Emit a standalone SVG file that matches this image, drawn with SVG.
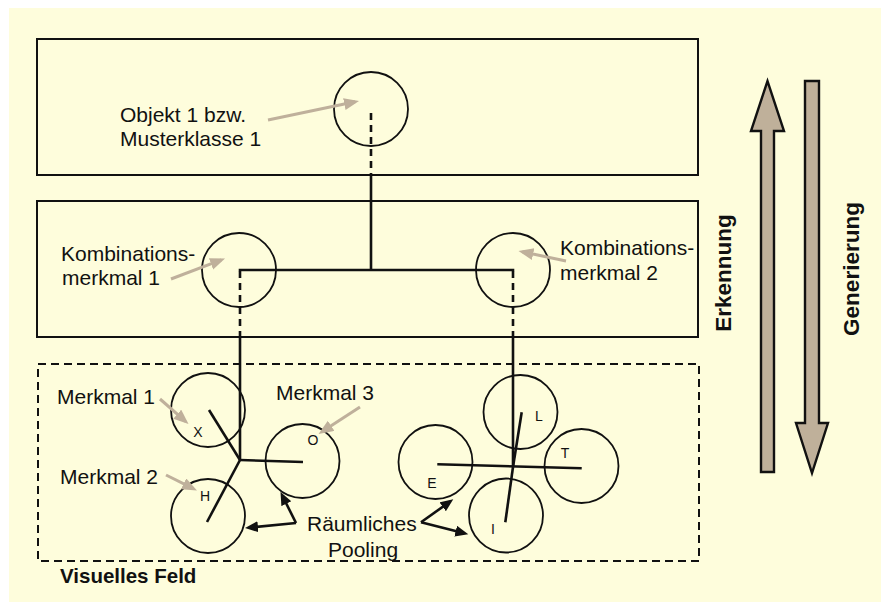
<svg xmlns="http://www.w3.org/2000/svg" width="881" height="602" viewBox="0 0 881 602">
  <style>
    .txt { font-family: "Liberation Sans", Arial, sans-serif; font-size: 21px; fill: #111; }
    .bold { font-family: "Liberation Sans", Arial, sans-serif; font-weight: bold; fill: #111; }
    .letter { font-family: "Liberation Sans", Arial, sans-serif; font-size: 14px; fill: #111; }
    .box { fill: none; stroke: #111; stroke-width: 2; }
    .field { fill: none; stroke: #111; stroke-width: 2; stroke-dasharray: 8 5; }
    .node { fill: none; stroke: #111; stroke-width: 1.8; }
    .wire { fill: none; stroke: #111; stroke-width: 2.6; }
    .dash { fill: none; stroke: #111; stroke-width: 2.6; stroke-dasharray: 7 5; }
    .callout { stroke: #bfb09b; stroke-width: 3; marker-end: url(#grayHead); }
    .pool { stroke: #111; stroke-width: 2.6; marker-end: url(#blackHead); }
    .bigarrow { fill: #bfb09a; stroke: #111; stroke-width: 2.4; stroke-linejoin: miter; }
  </style>
  <defs>
    <marker id="grayHead" markerUnits="userSpaceOnUse" markerWidth="16" markerHeight="13" refX="11" refY="6" orient="auto">
      <path d="M0,0 L15,6 L0,12 z" fill="#bfb09b"/>
    </marker>
    <marker id="blackHead" markerUnits="userSpaceOnUse" markerWidth="14" markerHeight="12" refX="9" refY="5.5" orient="auto">
      <path d="M0,0 L13,5.5 L0,11 z" fill="#111"/>
    </marker>
  </defs>

  <!-- page -->
  <rect x="0" y="0" width="881" height="602" fill="#ffffff"/>
  <rect x="9" y="8" width="872" height="594" fill="#fefddc"/>

  <!-- layer frames -->
  <g id="layer-object">
    <rect class="box" x="37" y="39" width="661" height="136"/>
  </g>
  <g id="layer-combination">
    <rect class="box" x="37" y="201" width="661" height="136"/>
  </g>
  <g id="visual-field">
    <rect class="field" x="38" y="364" width="661" height="197"/>
    <text class="bold" x="60" y="583" font-size="20.5">Visuelles Feld</text>
  </g>

  <!-- connectors -->
  <g id="connectors">
    <line class="dash" x1="371" y1="113" x2="371" y2="175"/>
    <line class="wire" x1="371" y1="175" x2="371" y2="270"/>
    <line class="wire" x1="238.7" y1="270" x2="514.3" y2="270"/>
    <line class="dash" x1="240" y1="271" x2="240" y2="337"/>
    <line class="wire" x1="240" y1="337" x2="240" y2="460"/>
    <line class="dash" x1="513" y1="271" x2="513" y2="337"/>
    <line class="wire" x1="513" y1="337" x2="513" y2="467"/>
    <!-- left feature star -->
    <line class="wire" x1="240" y1="460" x2="209" y2="410"/>
    <line class="wire" x1="240" y1="460" x2="303" y2="462"/>
    <line class="wire" x1="240" y1="460" x2="207" y2="522"/>
    <!-- right feature star -->
    <line class="wire" x1="513" y1="467" x2="521.7" y2="412.3"/>
    <line class="wire" x1="513" y1="467" x2="505.3" y2="522.3"/>
    <line class="wire" x1="437.3" y1="464.3" x2="581.7" y2="468.3"/>
  </g>

  <!-- nodes -->
  <g id="obj1">
    <circle class="node" cx="371" cy="109" r="37"/>
    <text class="txt" x="120" y="122">Objekt 1 bzw.</text>
    <text class="txt" x="120" y="146">Musterklasse 1</text>
  </g>
  <g id="komb1">
    <circle class="node" cx="239" cy="270" r="37"/>
    <text class="txt" x="61" y="261">Kombinations-</text>
    <text class="txt" x="62" y="285">merkmal 1</text>
  </g>
  <g id="komb2">
    <circle class="node" cx="513" cy="270" r="37"/>
    <text class="txt" x="560" y="255">Kombinations-</text>
    <text class="txt" x="560" y="280">merkmal 2</text>
  </g>
  <g id="merkmal1">
    <circle class="node" cx="208" cy="410" r="37"/>
    <text class="letter" x="198" y="437" text-anchor="middle">X</text>
    <text class="txt" x="57" y="404">Merkmal 1</text>
  </g>
  <g id="merkmal2">
    <circle class="node" cx="208" cy="516" r="37"/>
    <text class="letter" x="205" y="501" text-anchor="middle">H</text>
    <text class="txt" x="60" y="484">Merkmal 2</text>
  </g>
  <g id="merkmal3">
    <circle class="node" cx="302.5" cy="461" r="37"/>
    <text class="letter" x="313" y="445" text-anchor="middle">O</text>
    <text class="txt" x="276" y="400">Merkmal 3</text>
  </g>
  <g id="feature-L">
    <circle class="node" cx="520.5" cy="412" r="37"/>
    <text class="letter" x="539" y="421" text-anchor="middle">L</text>
  </g>
  <g id="feature-E">
    <circle class="node" cx="435.5" cy="462" r="37"/>
    <text class="letter" x="432" y="488" text-anchor="middle">E</text>
  </g>
  <g id="feature-T">
    <circle class="node" cx="581.5" cy="466" r="37"/>
    <text class="letter" x="565" y="458" text-anchor="middle">T</text>
  </g>
  <g id="feature-I">
    <circle class="node" cx="506" cy="515.5" r="37"/>
    <text class="letter" x="493" y="534" text-anchor="middle">I</text>
  </g>

  <!-- label pointers -->
  <g id="callouts">
    <line class="callout" x1="268" y1="120" x2="355.1" y2="101.8"/>
    <line class="callout" x1="171" y1="279" x2="221.3" y2="259.9"/>
    <line class="callout" x1="566" y1="261" x2="522.4" y2="251.8"/>
    <line class="callout" x1="160" y1="399" x2="185.5" y2="421.4"/>
    <line class="callout" x1="166" y1="475" x2="193.4" y2="488.7"/>
    <line class="callout" x1="360" y1="407" x2="321.9" y2="431.8"/>
  </g>

  <!-- spatial pooling -->
  <g id="pooling">
    <line class="pool" x1="296" y1="523" x2="282.3" y2="495.6"/>
    <line class="pool" x1="296" y1="523" x2="249" y2="527.6"/>
    <line class="pool" x1="421" y1="522.3" x2="450" y2="501.6"/>
    <line class="pool" x1="421" y1="522.3" x2="464.4" y2="533.3"/>
    <text class="txt" x="307" y="531">Räumliches</text>
    <text class="txt" x="328" y="557">Pooling</text>
  </g>

  <!-- processing direction -->
  <g id="erkennung">
    <polygon class="bigarrow" points="761,472 761,131 751,131 767.5,81 784,131 774,131 774,472"/>
    <text class="bold" font-size="22.5" transform="translate(731,273) rotate(-90)" text-anchor="middle">Erkennung</text>
  </g>
  <g id="generierung">
    <polygon class="bigarrow" points="805,81 819,81 819,423 828,423 812,473 796,423 805,423"/>
    <text class="bold" font-size="22.5" transform="translate(859,269) rotate(-90)" text-anchor="middle">Generierung</text>
  </g>
</svg>
